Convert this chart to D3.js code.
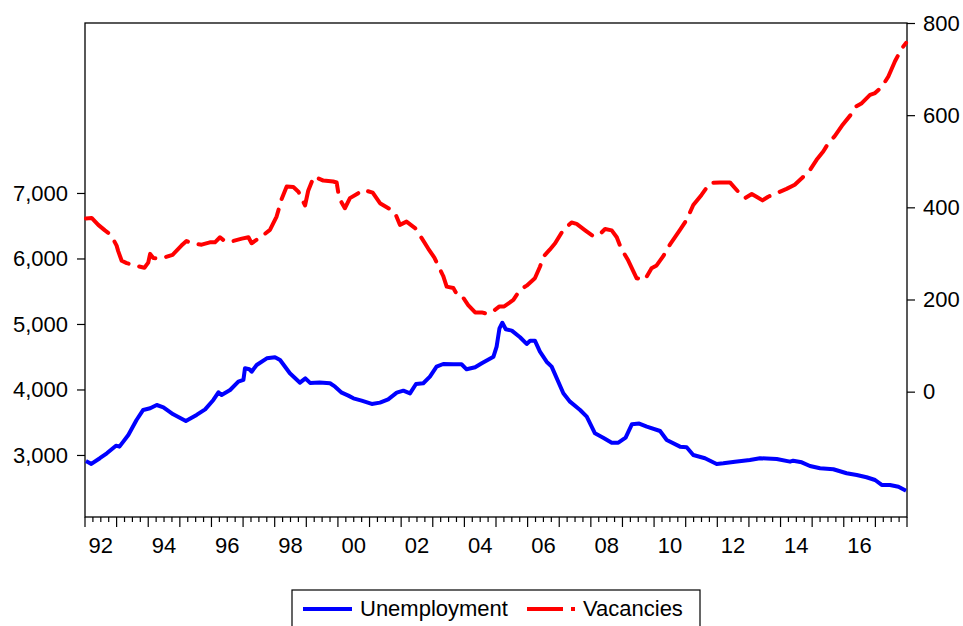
<!DOCTYPE html>
<html>
<head>
<meta charset="utf-8">
<script src="https://cdn.jsdelivr.net/npm/d3@7"></script>
<style>
  html, body { margin: 0; padding: 0; background: #fff; }
  svg { display: block; }
  text { font-family: "Liberation Sans", Arial, sans-serif; fill: #000; }
</style>
</head>
<body>
<svg id="chart" width="963" height="626"></svg>
<script>
// ---- Data ----
const unemploymentDates = [1992.03,1992.2,1992.47,1992.69,1992.98,1993.09,1993.37,1993.63,1993.84,1994.06,1994.27,1994.48,1994.79,1995.19,1995.53,1995.8,1996.06,1996.22,1996.32,1996.59,1996.85,1997.01,1997.06,1997.2,1997.27,1997.43,1997.75,1998.01,1998.17,1998.48,1998.8,1998.97,1999.12,1999.42,1999.75,1999.91,2000.12,2000.33,2000.49,2000.75,2001.07,2001.33,2001.59,2001.86,2002.07,2002.28,2002.47,2002.7,2002.91,2003.12,2003.33,2003.65,2003.91,2004.07,2004.34,2004.55,2004.92,2005.02,2005.11,2005.2,2005.31,2005.5,2005.76,2005.97,2006.08,2006.23,2006.39,2006.6,2006.76,2007.13,2007.34,2007.66,2007.87,2008.13,2008.39,2008.66,2008.87,2009.1,2009.3,2009.53,2009.77,2010.19,2010.4,2010.82,2011.03,2011.24,2011.61,2011.98,2012.19,2012.56,2013.03,2013.35,2013.88,2014.3,2014.4,2014.67,2014.93,2015.25,2015.67,2016.09,2016.41,2016.72,2016.99,2017.2,2017.46,2017.73,2017.97];
const unemploymentValues = [2908,2863,2950,3026,3142,3127,3305,3534,3687,3713,3763,3728,3621,3519,3611,3697,3840,3957,3916,3992,4119,4145,4324,4308,4271,4374,4476,4491,4450,4247,4104,4170,4100,4106,4095,4043,3951,3906,3865,3829,3779,3799,3850,3951,3982,3941,4084,4095,4196,4348,4389,4385,4385,4308,4339,4400,4501,4654,4934,5019,4919,4898,4797,4695,4745,4745,4577,4424,4348,3942,3814,3687,3585,3331,3264,3188,3188,3264,3470,3480,3432,3366,3229,3127,3117,3000,2950,2863,2873,2898,2924,2950,2939,2898,2913,2888,2832,2797,2782,2721,2695,2660,2618,2542,2542,2516,2455];

const vacancyDates = [1992.03,1992.21,1992.42,1992.63,1992.79,1992.86,1993.0,1993.05,1993.16,1993.32,1993.63,1993.88,1994.0,1994.06,1994.16,1994.42,1994.77,1995.05,1995.21,1995.37,1995.69,1995.95,1996.11,1996.27,1996.43,1996.69,1996.96,1997.17,1997.27,1997.59,1997.85,1998.06,1998.22,1998.38,1998.59,1998.75,1998.96,1999.06,1999.24,1999.54,1999.85,1999.96,2000.04,2000.22,2000.38,2000.65,2000.8,2001.1,2001.33,2001.65,2001.81,2001.96,2002.17,2002.44,2002.65,2002.86,2003.05,2003.33,2003.44,2003.65,2003.81,2003.97,2004.12,2004.34,2004.55,2004.71,2004.92,2005.11,2005.26,2005.55,2005.76,2005.97,2006.23,2006.39,2006.5,2006.7,2006.87,2007.13,2007.39,2007.55,2007.82,2008.08,2008.32,2008.45,2008.66,2008.82,2008.95,2009.18,2009.45,2009.71,2009.92,2010.08,2010.29,2010.5,2010.82,2011.03,2011.24,2011.5,2011.77,2012.08,2012.4,2012.66,2012.88,2013.09,2013.24,2013.43,2013.61,2013.88,2014.19,2014.45,2014.67,2014.93,2015.14,2015.35,2015.51,2015.72,2015.94,2016.2,2016.39,2016.57,2016.83,2016.99,2017.2,2017.41,2017.62,2017.83,2017.97];
const vacancyValues = [376,377,362,350,342,335,317,305,284,279,273,269,280,299,290,289,297,317,327,322,319,324,324,335,326,327,332,335,322,337,351,380,418,445,444,434,404,436,467,458,456,454,420,398,420,431,438,432,409,396,387,362,369,355,333,310,291,251,228,225,206,203,188,172,172,169,175,185,185,199,221,230,246,271,293,308,322,351,367,364,350,337,344,353,350,335,312,285,246,243,268,274,294,319,351,373,405,427,453,454,454,434,420,429,423,415,423,431,440,449,463,481,503,521,539,555,577,599,619,626,644,648,661,684,717,744,757];

const leftTicks = [3000, 4000, 5000, 6000, 7000];
const rightTicks = [0, 200, 400, 600, 800];
const yearLabels = ["92","94","96","98","00","02","04","06","08","10","12","14","16"];
const yearLabelPositions = [1992,1994,1996,1998,2000,2002,2004,2006,2008,2010,2012,2014,2016];
const seriesNames = ["Unemployment", "Vacancies"];

// ---- Layout ----
const plot = { left: 85, right: 907, top: 23, bottom: 517 };
const svg = d3.select("#chart");

const x = d3.scaleLinear().domain([1992, 2018]).range([plot.left, plot.right]);
const yL = d3.scaleLinear().domain([2053, 9595]).range([plot.bottom, plot.top]);
const yR = d3.scaleLinear().domain([-272, 800]).range([plot.bottom, plot.top]);

// Frame
svg.append("rect")
  .attr("x", plot.left).attr("y", plot.top)
  .attr("width", plot.right - plot.left).attr("height", plot.bottom - plot.top)
  .attr("fill", "none").attr("stroke", "#000").attr("stroke-width", 1.3);

// Left axis
const gL = svg.append("g").attr("transform", `translate(${plot.left},0)`)
  .call(d3.axisLeft(yL).tickValues(leftTicks).tickSize(8).tickPadding(9).tickFormat(d3.format(",")));
gL.select(".domain").remove();
gL.selectAll("text").style("font-size", "22px").attr("font-family", null);
gL.selectAll("line").attr("stroke-width", 1.2);

// Right axis
const gR = svg.append("g").attr("transform", `translate(${plot.right},0)`)
  .call(d3.axisRight(yR).tickValues(rightTicks).tickSize(8).tickPadding(8).tickFormat(d3.format("d")));
gR.select(".domain").remove();
gR.selectAll("text").style("font-size", "22px").attr("font-family", null);
gR.selectAll("line").attr("stroke-width", 1.2);

// Bottom axis: major yearly ticks, minor quarterly ticks
const quarterTicks = d3.range(1992, 2018.001, 0.25);
const gB = svg.append("g").attr("transform", `translate(0,${plot.bottom})`);
gB.selectAll("line.tick")
  .data(quarterTicks)
  .join("line")
  .attr("x1", d => x(d)).attr("x2", d => x(d))
  .attr("y1", 0)
  .attr("y2", d => Math.abs(d - Math.round(d)) < 1e-6 ? 10 : 5)
  .attr("stroke", "#000").attr("stroke-width", 1.2);
gB.selectAll("text")
  .data(yearLabels)
  .join("text")
  .attr("x", (d, i) => x(yearLabelPositions[i] + 0.5))
  .attr("y", 36)
  .attr("text-anchor", "middle")
  .style("font-size", "22px")
  .text(d => d);

// Lines
const lineU = d3.line().x((d, i) => x(unemploymentDates[i])).y(d => yL(d));
const lineV = d3.line().x((d, i) => x(vacancyDates[i])).y(d => yR(d));

svg.append("path")
  .attr("d", lineV(vacancyValues))
  .attr("fill", "none").attr("stroke", "#ff0000").attr("stroke-width", 4)
  .attr("stroke-linecap", "round").attr("stroke-linejoin", "round")
  .attr("stroke-dasharray", "28,11");

svg.append("path")
  .attr("d", lineU(unemploymentValues))
  .attr("fill", "none").attr("stroke", "#0000ff").attr("stroke-width", 4)
  .attr("stroke-linejoin", "round");

// Legend
const lg = svg.append("g");
lg.append("rect").attr("x", 292).attr("y", 590).attr("width", 408).attr("height", 50)
  .attr("fill", "#fff").attr("stroke", "#000").attr("stroke-width", 1.2);
lg.append("line").attr("x1", 303).attr("x2", 352).attr("y1", 609).attr("y2", 609)
  .attr("stroke", "#0000ff").attr("stroke-width", 4);
lg.append("text").attr("x", 360).attr("y", 616).style("font-size", "22px").text(seriesNames[0]);
lg.append("line").attr("x1", 527).attr("x2", 563).attr("y1", 609).attr("y2", 609)
  .attr("stroke", "#ff0000").attr("stroke-width", 4);
lg.append("line").attr("x1", 571).attr("x2", 575).attr("y1", 609).attr("y2", 609)
  .attr("stroke", "#ff0000").attr("stroke-width", 4);
lg.append("text").attr("x", 583).attr("y", 616).style("font-size", "22px").text(seriesNames[1]);
</script>
</body>
</html>
